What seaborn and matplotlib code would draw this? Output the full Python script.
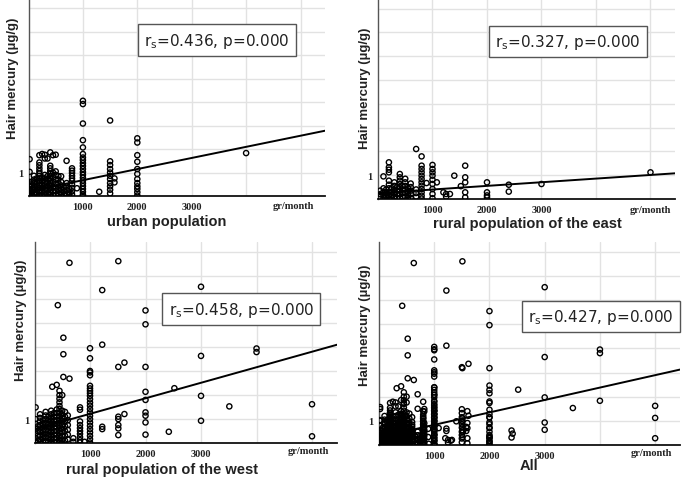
import pandas as pd
import matplotlib.pyplot as plt
import seaborn as sns

# gr/month (x) columns and hair mercury values (y)
urban_x = [20, 60, 100, 150, 200, 250, 300, 350, 400, 450, 500, 550, 600, 650, 700, 750, 800,
           890, 1000, 1300, 1500, 1580, 2000, 4000]
urban_y = [
    [1.57, 1.03, 0.6, 0.5, 0.4, 0.3, 0.2, 0.1, 0.05],
    [0.6, 0.45, 0.3, 0.15, 0.03],
    [0.86, 0.7, 0.55, 0.4, 0.25, 0.1],
    [0.75, 0.6, 0.45, 0.3, 0.15, 0.05],
    [1.74, 1.43, 1.31, 1.18, 1.06, 0.96, 0.86, 0.75, 0.65, 0.55, 0.45, 0.35, 0.25, 0.15, 0.05],
    [1.79, 0.8, 0.65, 0.5, 0.35, 0.2, 0.05],
    [1.76, 1.6, 0.9, 0.75, 0.6, 0.45, 0.3, 0.15, 0.02],
    [1.6, 0.85, 0.7, 0.55, 0.4, 0.25, 0.1],
    [1.86, 1.29, 1.18, 1.06, 0.95, 0.85, 0.75, 0.65, 0.55, 0.45, 0.35, 0.25, 0.15, 0.05],
    [1.74, 1.0, 0.8, 0.6, 0.4, 0.2, 0.05],
    [1.76, 1.05, 0.9, 0.7, 0.5, 0.35, 0.2, 0.05],
    [0.85, 0.7, 0.55, 0.4, 0.25, 0.1],
    [0.84, 0.6, 0.45, 0.3, 0.15, 0.05],
    [0.35, 0.2, 0.05],
    [1.5, 0.55, 0.4, 0.25, 0.1],
    [0.3, 0.15, 0.05],
    [1.18, 1.08, 0.98, 0.86, 0.75, 0.65, 0.5, 0.35, 0.2, 0.07],
    [0.33],
    [4.06, 3.92, 3.09, 2.38, 2.07, 1.79, 1.64, 1.53, 1.4, 1.28, 1.15, 1.02, 0.9, 0.78, 0.66,
     0.54, 0.42, 0.3, 0.18, 0.06, 0.0],
    [0.18],
    [3.22, 1.48, 1.32, 1.15, 1.0, 0.86, 0.72, 0.55, 0.41, 0.27, 0.11],
    [0.75, 0.58],
    [2.46, 2.28, 1.74, 1.46, 1.15, 0.94, 0.72, 0.55, 0.41, 0.3, 0.16, 0.02],
    [1.83],
]

east_x = [40, 100, 150, 200, 250, 300, 350, 400, 450, 500, 550, 600, 700, 800, 890, 1000,
          1080, 1200, 1250, 1320, 1400, 1520, 1600, 2000, 2400, 3000, 5000]
east_y = [
    [0.35, 0.2, 0.08],
    [0.95, 0.45, 0.3, 0.15, 0.03],
    [0.4, 0.25, 0.1],
    [1.54, 1.33, 1.23, 1.12, 0.77, 0.6, 0.45, 0.3, 0.15, 0.03],
    [0.45, 0.3, 0.15, 0.03],
    [0.7, 0.55, 0.4, 0.25, 0.1],
    [0.5, 0.35, 0.2, 0.05],
    [1.05, 0.91, 0.77, 0.63, 0.5, 0.35, 0.2, 0.05],
    [0.55, 0.4, 0.25, 0.1],
    [0.85, 0.7, 0.55, 0.4, 0.25, 0.1],
    [0.45, 0.3, 0.15, 0.03],
    [0.65, 0.5, 0.35, 0.2, 0.05],
    [2.1, 0.4, 0.25, 0.1],
    [1.79, 1.4, 1.26, 1.12, 0.98, 0.84, 0.7, 0.56, 0.42, 0.28, 0.14, 0.02],
    [0.67],
    [1.43, 1.26, 1.12, 0.98, 0.81, 0.63, 0.42, 0.21, 0.03],
    [0.7],
    [0.28],
    [0.21, 0.1],
    [0.21],
    [0.98],
    [0.54],
    [1.4, 0.91, 0.7, 0.28, 0.07],
    [0.7, 0.28, 0.15, 0.07],
    [0.6, 0.31],
    [0.63],
    [1.12],
]

west_x = [20, 60, 100, 150, 200, 250, 300, 320, 350, 400, 420, 450, 500, 520, 550, 600, 630,
          700, 820, 900, 1000, 1220, 1510, 1620, 2000, 2420, 2520, 3000, 3510, 4000, 5000]
west_y = [
    [1.49, 1.0, 0.8, 0.6, 0.4, 0.2, 0.05],
    [0.7, 0.5, 0.3, 0.1],
    [1.2, 1.05, 0.9, 0.75, 0.6, 0.45, 0.3, 0.15, 0.03],
    [0.95, 0.8, 0.65, 0.5, 0.35, 0.2, 0.05],
    [1.3, 1.15, 1.0, 0.85, 0.7, 0.55, 0.4, 0.25, 0.1],
    [1.1, 0.95, 0.8, 0.65, 0.5, 0.35, 0.2, 0.05],
    [1.35, 1.2, 1.05, 0.9, 0.75, 0.6, 0.45, 0.3, 0.15, 0.02],
    [2.35],
    [1.25, 1.1, 0.95, 0.8, 0.65, 0.5, 0.35, 0.2, 0.05],
    [2.43, 1.4, 1.25, 1.1, 0.95, 0.8, 0.65, 0.5, 0.35, 0.2, 0.05],
    [5.76],
    [2.18, 2.0, 1.85, 1.7, 1.55, 1.42, 1.28, 1.12, 0.98, 0.84, 0.7, 0.56, 0.42, 0.28, 0.14, 0.02],
    [2.0, 1.35, 1.2, 1.05, 0.9, 0.75, 0.6, 0.45, 0.3, 0.15, 0.03],
    [4.4, 3.71, 2.76],
    [1.3, 1.1, 0.9, 0.7, 0.5, 0.3, 0.1],
    [1.15, 0.95, 0.75, 0.55, 0.35, 0.15],
    [7.53, 2.69],
    [0.2, 0.05],
    [1.49, 1.39, 0.9, 0.75, 0.62, 0.5, 0.38, 0.25, 0.12, 0.02],
    [0.05],
    [3.96, 3.54, 3.01, 2.95, 2.83, 2.39, 2.28, 2.18, 2.08, 1.97, 1.83, 1.69, 1.56, 1.42, 1.28,
     1.14, 1.0, 0.86, 0.72, 0.58, 0.44, 0.3, 0.16, 0.02],
    [6.39, 4.11, 0.68, 0.58],
    [7.6, 3.18, 1.1, 1.0, 0.75, 0.61, 0.33],
    [3.36, 1.21],
    [5.54, 4.96, 3.18, 2.14, 1.8, 1.28, 1.14, 0.86, 0.35],
    [0.47],
    [2.29],
    [6.53, 3.64, 1.97, 0.93],
    [1.53],
    [3.95, 3.8],
    [1.62, 0.28],
]

# regression line (intercept, slope per gr/month) and Spearman text per panel
titles = ['urban population', 'rural population of the east', 'rural population of the west', 'All']
intercepts = [0.20, 0.245, 0.57, 0.32]
slopes = [0.000474, 0.000153, 0.000649, 0.000514]
rs_values = ['0.436', '0.327', '0.458', '0.427']
p_values = ['0.000', '0.000', '0.000', '0.000']


def to_df(xs, ys):
    d = pd.DataFrame({'x': xs, 'y': ys}).explode('y')
    d['y'] = d['y'].astype(float)
    return d


df_urban = to_df(urban_x, urban_y)
df_east = to_df(east_x, east_y)
df_west = to_df(west_x, west_y)
df_all = pd.concat([df_urban, df_east, df_west])  # "All" = the three groups together
frames = [df_urban, df_east, df_west, df_all]

sns.set_style('white')
plt.rcParams['font.family'] = ['DejaVu Sans']

W, H = 685, 481
fig = plt.figure(figsize=(W / 100, H / 100), dpi=100)


def fx(px):
    return px / W


def fy(py):
    return 1 - py / H


# axes boxes in pixels: left, top, right, bottom
boxes = [(28.5, 0, 325, 197), (378, 0, 675, 200), (34.5, 243, 337, 444), (379, 243, 680, 446)]
ylab_pos = [(13, 78), (365, 88), (20.7, 320), (365, 325)]
xlab_pos = [(166.5, 222), (527.5, 224), (162.5, 470), (528.7, 466)]
grm_pos = [(293.3, 206.7), (650, 210.5), (308.3, 451.7), (651.7, 454)]
box_pos = [(3462, 6.65), (3492, 6.62), (3726, 5.6), (4024, 5.31)]

xmax = 5450
for i, d in enumerate(frames):
    l, t, r, b = boxes[i]
    ax = fig.add_axes([fx(l), fy(b), (r - l) / W, (b - t) / H])
    ax.set_xlim(0, xmax)
    ax.set_ylim(0, 8.4)

    sns.scatterplot(data=d, x='x', y='y', ax=ax, marker='o', s=14,
                    facecolor='none', edgecolor='black', linewidth=1.0, zorder=3)
    line_x = [0, xmax]
    line_y = [intercepts[i] + slopes[i] * v for v in line_x]
    sns.lineplot(x=line_x, y=line_y, ax=ax, color='black', linewidth=1.4, zorder=4)

    ax.set_xticks([1000, 2000, 3000])
    ax.set_xticks([4000, 5000], minor=True)
    ax.set_yticks([1])
    ax.set_yticks(range(2, 9), minor=True)
    ax.set_xticklabels(['1000', '2000', '3000'], fontfamily='Liberation Serif',
                       fontweight='bold', fontsize=7.5, color='#222222')
    ax.set_yticklabels(['1'], fontfamily='Liberation Serif', fontweight='bold',
                       fontsize=7.5, color='#222222')
    ax.grid(which='both', color='#e2e2e2', linewidth=1)
    ax.set_axisbelow(True)
    ax.tick_params(which='minor', length=0)
    ax.tick_params(which='major', length=3, width=1.6, color='black', direction='inout', pad=2.5)
    for s in ['top', 'right']:
        ax.spines[s].set_visible(False)
    ax.spines['left'].set_color('#555555')
    ax.spines['left'].set_linewidth(1.0)
    ax.spines['bottom'].set_color('#111111')
    ax.spines['bottom'].set_linewidth(1.3)
    ax.set_xlabel('')
    ax.set_ylabel('')

    ax.text(box_pos[i][0], box_pos[i][1],
            r'r$_\mathregular{s}$=' + rs_values[i] + ', p=' + p_values[i],
            ha='center', va='center', fontsize=11, color='#222222', zorder=6,
            bbox=dict(boxstyle='square,pad=0.4', fc='white', ec='#555555', lw=1))

    fig.text(fx(ylab_pos[i][0]), fy(ylab_pos[i][1]), 'Hair mercury (µg/g)', rotation=90,
             ha='center', va='center', fontsize=9.5, fontweight='bold',
             fontfamily='Liberation Sans', color='#222222')
    fig.text(fx(xlab_pos[i][0]), fy(xlab_pos[i][1]), titles[i],
             ha='center', va='center', fontsize=10.5, fontweight='bold',
             fontfamily='Liberation Sans', color='#222222')
    fig.text(fx(grm_pos[i][0]), fy(grm_pos[i][1]), 'gr/month', ha='center', va='center',
             fontfamily='Liberation Serif', fontweight='bold', fontsize=7.5, color='#222222')

fig.savefig('out.png', dpi=100)
